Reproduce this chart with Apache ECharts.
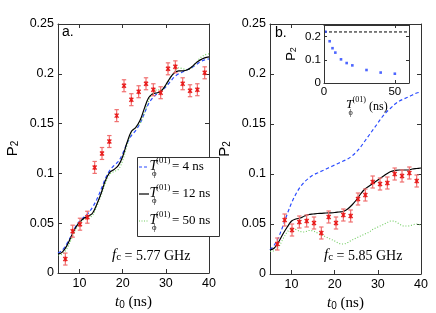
<!DOCTYPE html>
<html><head><meta charset="utf-8">
<script src="https://cdn.jsdelivr.net/npm/echarts@6/dist/echarts.min.js"></script>
<style>html,body{margin:0;padding:0;background:#fff}#c{width:436px;height:313px}</style>
</head><body><div id="c"></div>
<script>
// ---- data ----
const tCurve = [5,6,7,8,9,10,11,12,13,14,15,16,17,18,19,20,21,22,23,24,25,26,27,28,29,30,31,32,33,34,35,36,37,38,39,40];
const leftBlue  = [0.020,0.023,0.029,0.037,0.046,0.052,0.056,0.060,0.066,0.074,0.084,0.095,0.103,0.108,0.112,0.120,0.130,0.138,0.143,0.150,0.160,0.170,0.176,0.180,0.183,0.187,0.192,0.197,0.200,0.202,0.204,0.206,0.209,0.212,0.214,0.215];
const leftBlack = [0.019,0.021,0.027,0.036,0.045,0.051,0.055,0.057,0.060,0.069,0.080,0.093,0.101,0.104,0.108,0.117,0.131,0.142,0.146,0.153,0.165,0.176,0.180,0.181,0.183,0.189,0.196,0.201,0.203,0.203,0.204,0.207,0.211,0.214,0.216,0.217];
const leftGreen = [0.018,0.019,0.024,0.033,0.043,0.050,0.054,0.055,0.058,0.067,0.078,0.090,0.099,0.102,0.104,0.113,0.128,0.141,0.146,0.150,0.160,0.173,0.181,0.184,0.184,0.188,0.195,0.202,0.206,0.205,0.204,0.206,0.211,0.216,0.219,0.220];
const rightBlue  = [0.024,0.029,0.037,0.048,0.060,0.071,0.080,0.087,0.092,0.096,0.099,0.101,0.103,0.105,0.107,0.109,0.111,0.113,0.115,0.118,0.122,0.127,0.133,0.139,0.145,0.151,0.157,0.162,0.166,0.170,0.173,0.175,0.177,0.179,0.181,0.182];
const rightBlack = [0.024,0.026,0.032,0.040,0.047,0.053,0.055,0.056,0.058,0.0595,0.060,0.0605,0.0607,0.061,0.0612,0.0615,0.062,0.0625,0.065,0.069,0.074,0.080,0.085,0.088,0.091,0.094,0.097,0.100,0.1025,0.1035,0.104,0.104,0.104,0.105,0.1055,0.106];
const rightGreen = [0.0225,0.0235,0.027,0.035,0.042,0.045,0.0445,0.0425,0.042,0.0435,0.043,0.041,0.039,0.037,0.035,0.033,0.0305,0.030,0.0315,0.034,0.036,0.038,0.040,0.042,0.045,0.047,0.049,0.051,0.053,0.0525,0.050,0.048,0.048,0.049,0.050,0.049];
const tMeas = [6.7,8.4,10.1,11.8,13.5,15.2,16.9,18.6,20.3,22.0,23.7,25.4,27.1,28.8,30.5,32.2,33.9,35.6,37.3,39.0];
const leftMeas  = [0.014,0.042,0.049,0.056,0.106,0.120,0.132,0.158,0.188,0.174,0.182,0.190,0.184,0.181,0.205,0.207,0.190,0.183,0.184,0.201];
const rightMeas = [0.030,0.054,0.044,0.052,0.053,0.051,0.041,0.057,0.051,0.059,0.058,0.075,0.079,0.092,0.090,0.091,0.100,0.098,0.101,0.093];
const measErr = 0.006;
const insetT = [1,4,6,8,12,16,20,30,40,50];
const insetP = [0.221,0.180,0.150,0.131,0.102,0.086,0.076,0.056,0.045,0.040];
const insetRef = 0.22;
const xTicks = [10,20,30,40];
const insetXTicks = [0,50];

// ---- helpers ----
const pair = (xs, ys) => xs.map((x,i)=>[x, ys[i]]);
const AX = '#333';
const sans = 'Liberation Sans';
const serif = 'Liberation Serif';
function errItem(params, api){
  const x = api.value(0), y = api.value(1), e = api.value(2);
  const p = api.coord([x,y]), lo = api.coord([x,y-e]), hi = api.coord([x,y+e]);
  const c = 2.2, m = 2;
  const red = '#e81c1c', pink = '#f07070';
  return {type:'group', children:[
    {type:'line', shape:{x1:p[0],y1:lo[1],x2:p[0],y2:hi[1]}, style:{stroke:pink,lineWidth:1.2}},
    {type:'line', shape:{x1:p[0]-c,y1:lo[1],x2:p[0]+c,y2:lo[1]}, style:{stroke:pink,lineWidth:1.2}},
    {type:'line', shape:{x1:p[0]-c,y1:hi[1],x2:p[0]+c,y2:hi[1]}, style:{stroke:pink,lineWidth:1.2}},
    {type:'line', shape:{x1:p[0]-m,y1:p[1]-m,x2:p[0]+m,y2:p[1]+m}, style:{stroke:red,lineWidth:1.3}},
    {type:'line', shape:{x1:p[0]-m,y1:p[1]+m,x2:p[0]+m,y2:p[1]-m}, style:{stroke:red,lineWidth:1.3}},
    {type:'line', shape:{x1:p[0],y1:p[1]-m-0.5,x2:p[0],y2:p[1]+m+0.5}, style:{stroke:red,lineWidth:1.3}}
  ]};
}
function mainX(grid, pos, labels){
  return {type:'value', gridIndex:grid, position:pos, min:5, max:40,
    axisLine:{show:true,onZero:false,lineStyle:{color:AX,width:1}},
    axisTick:{show:true,inside:true,length:4,customValues:xTicks,lineStyle:{color:AX}},
    axisLabel:{show:labels,customValues:xTicks,color:'#000',fontFamily:sans,fontSize:12.5,margin:4},
    splitLine:{show:false}};
}
function mainY(grid, pos, labels){
  return {type:'value', gridIndex:grid, position:pos, min:0, max:0.25, interval:0.05,
    axisLine:{show:true,onZero:false,lineStyle:{color:AX,width:1}},
    axisTick:{show:true,inside:true,length:4,lineStyle:{color:AX}},
    axisLabel:{show:labels,color:'#000',fontFamily:sans,fontSize:12.5,margin:4},
    splitLine:{show:false}};
}
const p2Name = '{a|P}{b|2}';
const p2Rich = {a:{fontFamily:sans,fontSize:15,color:'#000',verticalAlign:'bottom',lineHeight:18},
                b:{fontFamily:sans,fontSize:10,color:'#000',verticalAlign:'bottom',lineHeight:8}};
const tName = '{i|t}{s|0}{n| (ns)}';
const tRich = {i:{fontFamily:serif,fontStyle:'italic',fontSize:15,color:'#000',verticalAlign:'bottom',lineHeight:18},
               s:{fontFamily:sans,fontSize:10,color:'#000',verticalAlign:'bottom',lineHeight:9},
               n:{fontFamily:serif,fontSize:15,color:'#000',verticalAlign:'bottom',lineHeight:18}};

const xAxes = [mainX(0,'bottom',true), mainX(0,'top',false), mainX(1,'bottom',true), mainX(1,'top',false),
  {type:'value', gridIndex:2, position:'bottom', min:0, max:60,
    axisLine:{show:true,onZero:false,lineStyle:{color:AX}},
    axisTick:{show:true,inside:true,length:3,customValues:insetXTicks,lineStyle:{color:AX}},
    axisLabel:{show:true,customValues:insetXTicks,color:'#000',fontFamily:sans,fontSize:11.5,margin:3},
    splitLine:{show:false}, z:12},
  {type:'value', gridIndex:2, position:'top', min:0, max:60,
    axisLine:{show:true,onZero:false,lineStyle:{color:AX}},
    axisTick:{show:true,inside:true,length:3,customValues:insetXTicks,lineStyle:{color:AX}},
    axisLabel:{show:false}, splitLine:{show:false}, z:12}];
xAxes[0].name = tName; xAxes[0].nameLocation='middle'; xAxes[0].nameGap=14; xAxes[0].nameTextStyle={rich:tRich};
xAxes[2].name = tName; xAxes[2].nameLocation='middle'; xAxes[2].nameGap=14; xAxes[2].nameTextStyle={rich:tRich};
const yAxes = [mainY(0,'left',true), mainY(0,'right',false), mainY(1,'left',true), mainY(1,'right',false),
  {type:'value', gridIndex:2, position:'left', min:0, max:0.25, interval:0.1,
    axisLine:{show:true,onZero:false,lineStyle:{color:AX}},
    axisTick:{show:true,inside:true,length:3,lineStyle:{color:AX}},
    axisLabel:{show:true,color:'#000',fontFamily:sans,fontSize:11.5,margin:3,showMaxLabel:false},
    splitLine:{show:false}, z:12,
    name:p2Name, nameLocation:'middle', nameGap:26, nameRotate:90,
    nameTextStyle:{rich:{a:{fontFamily:sans,fontSize:13,color:'#000',verticalAlign:'bottom',lineHeight:16},
                         b:{fontFamily:sans,fontSize:9,color:'#000',verticalAlign:'bottom',lineHeight:7}}}},
  {type:'value', gridIndex:2, position:'right', min:0, max:0.25, interval:0.1,
    axisLine:{show:true,onZero:false,lineStyle:{color:AX}},
    axisTick:{show:true,inside:true,length:3,lineStyle:{color:AX}},
    axisLabel:{show:false}, splitLine:{show:false}, z:12}];
[0,2].forEach(i=>{ yAxes[i].name=p2Name; yAxes[i].nameLocation='middle'; yAxes[i].nameGap=38; yAxes[i].nameRotate=90; yAxes[i].nameTextStyle={rich:p2Rich}; });

const BLUE='#2a4bff', GREEN='#70cc60';
function curve(name, xi, yi, ys, color, type, dash, w){
  return {type:'line', name, xAxisIndex:xi, yAxisIndex:yi, data:pair(tCurve, ys), showSymbol:false, symbol:'none',
    smooth:0.35, lineStyle:{color, width:w, type:dash||type}, z:3, silent:true};
}
const series = [
  curve('4 ns',0,0,leftBlue,BLUE,'dashed',[3.5,2.5],1.2),
  curve('50 ns',0,0,leftGreen,GREEN,'dotted',[1,1.8],1.1),
  curve('12 ns',0,0,leftBlack,'#000','solid',null,1.2),
  {type:'custom', xAxisIndex:0, yAxisIndex:0, renderItem:errItem, data:leftMeas.map((v,i)=>[tMeas[i],v,measErr]), z:4},
  curve('4 ns',2,2,rightBlue,BLUE,'dashed',[3.5,2.5],1.2),
  curve('50 ns',2,2,rightGreen,GREEN,'dotted',[1,1.8],1.1),
  curve('12 ns',2,2,rightBlack,'#000','solid',null,1.2),
  {type:'custom', xAxisIndex:2, yAxisIndex:2, renderItem:errItem, data:rightMeas.map((v,i)=>[tMeas[i],v,measErr]), z:4},
  {type:'line', xAxisIndex:4, yAxisIndex:4, data:[[0,insetRef],[60,insetRef]], symbol:'none', lineStyle:{color:'#000',width:1,type:[3,2]}, z:10},
  {type:'scatter', xAxisIndex:4, yAxisIndex:4, data:pair(insetT, insetP), symbol:'rect', symbolSize:2.6, itemStyle:{color:'#1f3fff'}, z:11}
];

const T = (x,y,text,font,extra)=>({type:'text', x, y, style:Object.assign({text, font, fill:'#000', textAlign:'left', textVerticalAlign:'middle'}, extra||{}), z:100});
function tphi(x,y,sz){ // T_phi^(01) at given x (left of T), y (center of T)
  return [
    T(x,y,'T','italic '+sz+'px '+serif),
    T(x+6.5,y-5,'(01)',(sz*0.62).toFixed(1)+'px '+serif),
    T(x+2.5,y+8,'ϕ',(sz*0.62).toFixed(1)+'px '+serif)
  ];
}
const legendRows = [
  {y:167, color:BLUE, dash:[3,2], label:'= 4 ns'},
  {y:194, color:'#000', dash:null, label:'= 12 ns'},
  {y:221, color:GREEN, dash:[1,1.5], label:'= 50 ns'}
];
const graphics = [
  {type:'rect', shape:{x:137.5,y:157.5,width:82,height:79}, style:{fill:'#fff',stroke:'#333',lineWidth:1}, z:90}
];
legendRows.forEach(r=>{
  graphics.push({type:'line', shape:{x1:139,y1:r.y,x2:149,y2:r.y}, style:{stroke:r.color,lineWidth:1.2,lineDash:r.dash}, z:100});
  tphi(149.5, r.y-1, 14).forEach(g=>graphics.push(g));
  graphics.push(T(172, r.y, r.label, '13px '+serif));
});
graphics.push(T(62, 32, 'a.', '14px '+sans));
graphics.push(T(275, 33, 'b.', '14px '+sans));
const fc = (x,y,val)=>({type:'text', x, y, z:100, style:{text:'{f|f}{c|c}{n| = '+val+' GHz}', textVerticalAlign:'middle',
  rich:{f:{fontFamily:serif,fontStyle:'italic',fontSize:15,fill:'#000',verticalAlign:'bottom',lineHeight:18},
        c:{fontFamily:serif,fontSize:11,fill:'#000',verticalAlign:'bottom',lineHeight:9},
        n:{fontFamily:serif,fontSize:14,fill:'#000',verticalAlign:'bottom',lineHeight:18}}}});
graphics.push(fc(112, 254, '5.77'));
graphics.push(fc(324, 254, '5.85'));
tphi(346, 105, 13).forEach(g=>graphics.push(g));
graphics.push(T(369, 107, '(ns)', '12px '+serif));

const chart = echarts.init(document.getElementById('c'), null, {renderer:'canvas'});
chart.setOption({
  animation:false,
  backgroundColor:'#fff',
  grid:[
    {left:58, top:24, width:151, height:249, outerBoundsMode:'none'},
    {left:270, top:24, width:151, height:250, outerBoundsMode:'none'},
    {left:324, top:25, width:85, height:58, show:true, backgroundColor:'#fff', borderColor:'transparent', z:1, outerBoundsMode:'none'}
  ],
  xAxis:xAxes, yAxis:yAxes, series, graphic:graphics
});
</script></body></html>
